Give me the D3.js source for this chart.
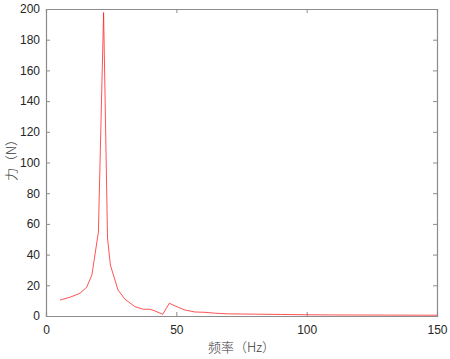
<!DOCTYPE html>
<html>
<head>
<meta charset="utf-8">
<script src="https://cdn.jsdelivr.net/npm/d3@7"></script>
<style>
  body { margin: 0; background: #fff; }
  svg text { font-family: "Liberation Sans", Arial, sans-serif; }
</style>
</head>
<body>
<div id="chart"></div>
<script>
// データ-----------------------------------------------------------------------
const freq = [5.4, 9.2, 13, 15.6, 17.6, 20.1, 22.1, 23.6, 24.7, 27.6, 30.3, 34.1, 37.3, 39.9, 41.8, 44.8, 47.3, 50.7,
  53.3, 57.2, 61, 65, 70, 80, 90, 100, 110, 120, 130, 140, 150];
const force = [10.4, 12.2, 14.8, 18.7, 26.7, 54.7, 197.7, 50.8, 33.2, 17, 10.9, 6.1, 4.4, 4.4, 3.3, 1.1, 8.3, 5.7,
  3.9, 2.6, 2.4, 1.8, 1.4, 1.2, 1.0, 0.8, 0.7, 0.65, 0.6, 0.55, 0.5];
const xTicks = [0, 50, 100, 150];
const yTicks = [0, 20, 40, 60, 80, 100, 120, 140, 160, 180, 200];

const width = 450, height = 359;
const margin = { top: 9, right: 13, bottom: 43, left: 46 };

const svg = d3.select('#chart').append('svg')
  .attr('width', width)
  .attr('height', height);

// スケール---------------------------------------------------------------------
const xScale = d3.scaleLinear().domain([0, 150]).range([margin.left, width - margin.right]);
const yScale = d3.scaleLinear().domain([0, 200]).range([height - margin.bottom, margin.top]);

// 軸---------------------------------------------------------------------------
const axisColor = '#8c8c8c';
svg.append('g')
  .attr('transform', 'translate(0,' + (height - margin.bottom) + ')')
  .call(d3.axisBottom(xScale).tickValues(xTicks).tickSize(-4).tickPadding(9).tickFormat(d3.format('d')));
svg.append('g')
  .attr('transform', 'translate(0,' + margin.top + ')')
  .call(d3.axisTop(xScale).tickValues(xTicks).tickSize(-4).tickFormat(''));
svg.append('g')
  .attr('transform', 'translate(' + margin.left + ',0)')
  .call(d3.axisLeft(yScale).tickValues(yTicks).tickSize(-4).tickPadding(6).tickFormat(d3.format('d')));
svg.append('g')
  .attr('transform', 'translate(' + (width - margin.right) + ',0)')
  .call(d3.axisRight(yScale).tickValues(yTicks).tickSize(-4).tickFormat(''));

svg.selectAll('.domain').attr('stroke', axisColor).attr('stroke-width', 1.2);
svg.selectAll('.tick line').attr('stroke', axisColor);
svg.selectAll('.tick text').attr('fill', '#262626').attr('font-size', '12px');

// 折れ線-----------------------------------------------------------------------
const line = d3.line()
  .x((d, i) => xScale(freq[i]))
  .y(d => yScale(d));
svg.append('path')
  .datum(force)
  .attr('d', line)
  .attr('fill', 'none')
  .attr('stroke', '#ff1a1a')
  .attr('stroke-width', 0.75);

// 軸ラベル---------------------------------------------------------------------
svg.append('text')
  .attr('x', (margin.left + width - margin.right) / 2)
  .attr('y', 352)
  .attr('text-anchor', 'middle')
  .attr('font-size', '13px')
  .attr('fill', '#3a3a3a')
  .style('font-family', '"Noto Sans CJK SC", sans-serif')
  .style('font-weight', 300)
  .text('频率（Hz）');
svg.append('text')
  .attr('transform', 'translate(16,157) rotate(-90)')
  .attr('text-anchor', 'middle')
  .attr('font-size', '13px')
  .attr('fill', '#3a3a3a')
  .style('font-family', '"Noto Sans CJK SC", sans-serif')
  .style('font-weight', 300)
  .text('力（N）');
</script>
</body>
</html>
